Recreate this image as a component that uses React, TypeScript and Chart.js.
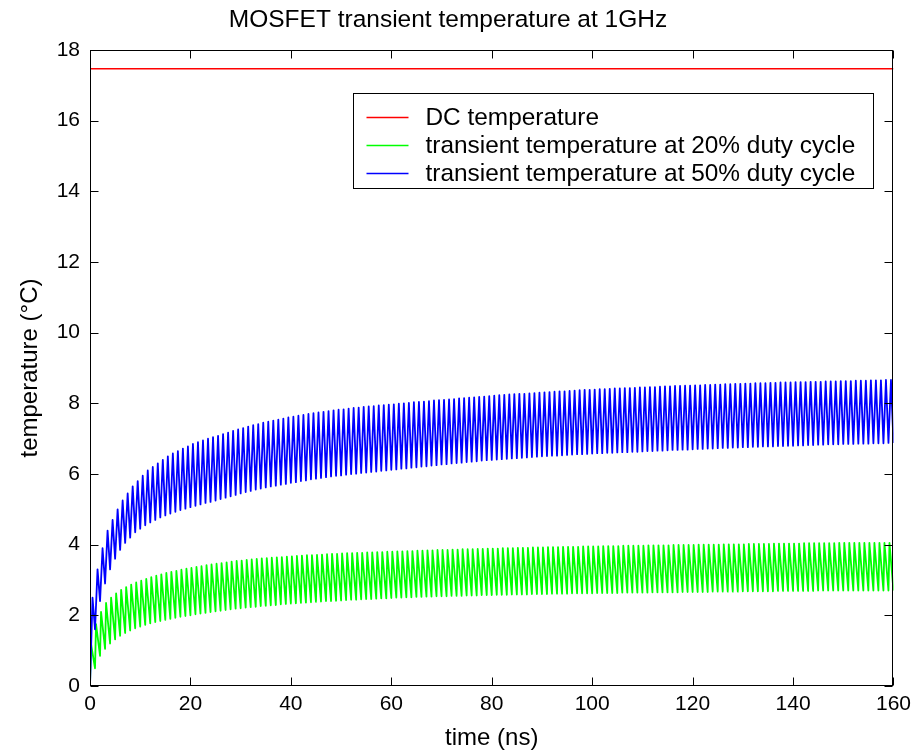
import { useEffect, useRef } from "react";
import { Chart, registerables } from "chart.js";

Chart.register(...registerables);

// ---- text ----
const TITLE = "MOSFET transient temperature at 1GHz";
const X_LABEL = "time (ns)";
const Y_LABEL = "temperature (°C)";
const SERIES_LABELS = [
  "DC temperature",
  "transient temperature at 20% duty cycle",
  "transient temperature at 50% duty cycle",
];

// ---- axes ----
const X_TICKS = [0, 20, 40, 60, 80, 100, 120, 140, 160];
const Y_TICKS = [0, 2, 4, 6, 8, 10, 12, 14, 16, 18];

// ---- data (°C) ----
const DC_TEMPERATURE = 17.47;
const DUTY_20 = 0.2; // fraction of each 1 ns period that the device is on
const DUTY_50 = 0.5;

// 20% duty cycle: temperature at the end of each on-pulse (one per ns period)
const PEAK_20 = [
  1.2, 1.75, 2.1, 2.35, 2.5, 2.62, 2.72, 2.8, 2.87, 2.93,
  2.98, 3.03, 3.08, 3.12, 3.16, 3.2, 3.23, 3.26, 3.29, 3.32,
  3.34, 3.37, 3.39, 3.42, 3.44, 3.46, 3.48, 3.5, 3.52, 3.54,
  3.55, 3.57, 3.58, 3.6, 3.61, 3.62, 3.63, 3.64, 3.65, 3.66,
  3.67, 3.68, 3.69, 3.7, 3.7, 3.71, 3.72, 3.73, 3.74, 3.74,
  3.75, 3.76, 3.76, 3.77, 3.77, 3.78, 3.78, 3.79, 3.79, 3.8,
  3.8, 3.81, 3.81, 3.82, 3.82, 3.83, 3.83, 3.84, 3.84, 3.85,
  3.85, 3.85, 3.86, 3.86, 3.87, 3.87, 3.87, 3.88, 3.88, 3.89,
  3.89, 3.89, 3.9, 3.9, 3.9, 3.91, 3.91, 3.91, 3.92, 3.92,
  3.92, 3.93, 3.93, 3.93, 3.94, 3.94, 3.94, 3.94, 3.95, 3.95,
  3.95, 3.95, 3.96, 3.96, 3.96, 3.96, 3.97, 3.97, 3.97, 3.97,
  3.97, 3.98, 3.98, 3.98, 3.98, 3.98, 3.99, 3.99, 3.99, 3.99,
  3.99, 4.0, 4.0, 4.0, 4.0, 4.0, 4.01, 4.01, 4.01, 4.01,
  4.01, 4.02, 4.02, 4.02, 4.02, 4.02, 4.03, 4.03, 4.03, 4.03,
  4.03, 4.03, 4.04, 4.04, 4.04, 4.04, 4.04, 4.04, 4.04, 4.05,
  4.05, 4.05, 4.05, 4.05, 4.05, 4.05, 4.05, 4.05, 4.05, 4.05,
];
// 20% duty cycle: temperature at the start of each period (t = 0 ... 160 ns)
const VALLEY_20 = [
  0, 0.5, 0.85, 1.05, 1.2, 1.32, 1.42, 1.5, 1.57, 1.63,
  1.68, 1.73, 1.77, 1.81, 1.84, 1.87, 1.9, 1.93, 1.96, 1.98,
  2.0, 2.03, 2.05, 2.07, 2.09, 2.11, 2.13, 2.15, 2.17, 2.19,
  2.2, 2.22, 2.23, 2.24, 2.26, 2.27, 2.28, 2.29, 2.31, 2.32,
  2.33, 2.34, 2.35, 2.36, 2.37, 2.38, 2.39, 2.4, 2.4, 2.41,
  2.42, 2.43, 2.44, 2.44, 2.45, 2.46, 2.46, 2.47, 2.48, 2.48,
  2.49, 2.5, 2.5, 2.51, 2.51, 2.52, 2.52, 2.53, 2.53, 2.54,
  2.54, 2.54, 2.55, 2.55, 2.55, 2.56, 2.56, 2.56, 2.57, 2.57,
  2.57, 2.58, 2.58, 2.58, 2.59, 2.59, 2.59, 2.59, 2.6, 2.6,
  2.6, 2.6, 2.61, 2.61, 2.61, 2.61, 2.62, 2.62, 2.62, 2.62,
  2.62, 2.63, 2.63, 2.63, 2.63, 2.63, 2.64, 2.64, 2.64, 2.64,
  2.64, 2.64, 2.65, 2.65, 2.65, 2.65, 2.65, 2.65, 2.66, 2.66,
  2.66, 2.66, 2.66, 2.66, 2.67, 2.67, 2.67, 2.67, 2.67, 2.67,
  2.68, 2.68, 2.68, 2.68, 2.68, 2.68, 2.68, 2.69, 2.69, 2.69,
  2.69, 2.69, 2.69, 2.69, 2.69, 2.7, 2.7, 2.7, 2.7, 2.7,
  2.7, 2.7, 2.7, 2.7, 2.7, 2.7, 2.7, 2.7, 2.7, 2.7, 2.7,
];
// 50% duty cycle: temperature at the end of each on-pulse
const PEAK_50 = [
  2.5, 3.3, 3.9, 4.4, 4.7, 5.0, 5.25, 5.45, 5.65, 5.8,
  5.95, 6.1, 6.2, 6.3, 6.4, 6.5, 6.58, 6.65, 6.72, 6.78,
  6.85, 6.9, 6.95, 7.0, 7.04, 7.08, 7.13, 7.17, 7.22, 7.26,
  7.3, 7.34, 7.38, 7.41, 7.45, 7.48, 7.51, 7.54, 7.57, 7.6,
  7.62, 7.65, 7.67, 7.7, 7.72, 7.74, 7.76, 7.78, 7.8, 7.82,
  7.83, 7.85, 7.87, 7.88, 7.9, 7.91, 7.92, 7.94, 7.95, 7.96,
  7.97, 7.99, 8.0, 8.01, 8.03, 8.04, 8.05, 8.06, 8.08, 8.09,
  8.1, 8.11, 8.12, 8.14, 8.15, 8.16, 8.17, 8.18, 8.19, 8.2,
  8.22, 8.23, 8.24, 8.25, 8.26, 8.27, 8.27, 8.28, 8.29, 8.3,
  8.31, 8.32, 8.33, 8.34, 8.34, 8.35, 8.36, 8.37, 8.38, 8.38,
  8.39, 8.4, 8.4, 8.41, 8.42, 8.42, 8.43, 8.43, 8.44, 8.45,
  8.45, 8.46, 8.46, 8.47, 8.48, 8.48, 8.49, 8.49, 8.5, 8.5,
  8.51, 8.51, 8.52, 8.52, 8.53, 8.53, 8.54, 8.54, 8.55, 8.55,
  8.56, 8.56, 8.57, 8.57, 8.57, 8.58, 8.58, 8.59, 8.59, 8.59,
  8.6, 8.6, 8.6, 8.61, 8.61, 8.61, 8.62, 8.62, 8.62, 8.63,
  8.63, 8.63, 8.64, 8.64, 8.64, 8.65, 8.65, 8.65, 8.66, 8.66,
];
// 50% duty cycle: temperature at the start of each period (t = 0 ... 160 ns)
const VALLEY_50 = [
  0, 1.6, 2.4, 2.9, 3.3, 3.6, 3.85, 4.05, 4.2, 4.35,
  4.45, 4.55, 4.63, 4.7, 4.77, 4.83, 4.88, 4.93, 4.98, 5.02,
  5.06, 5.1, 5.14, 5.18, 5.21, 5.25, 5.29, 5.33, 5.37, 5.41,
  5.45, 5.49, 5.52, 5.56, 5.59, 5.62, 5.65, 5.67, 5.7, 5.72,
  5.75, 5.77, 5.8, 5.82, 5.85, 5.87, 5.89, 5.91, 5.93, 5.95,
  5.96, 5.98, 6.0, 6.01, 6.03, 6.04, 6.06, 6.07, 6.09, 6.1,
  6.12, 6.13, 6.15, 6.16, 6.18, 6.19, 6.21, 6.22, 6.24, 6.25,
  6.27, 6.28, 6.3, 6.31, 6.32, 6.34, 6.35, 6.36, 6.38, 6.39,
  6.4, 6.41, 6.42, 6.43, 6.44, 6.45, 6.46, 6.47, 6.48, 6.49,
  6.5, 6.51, 6.52, 6.52, 6.53, 6.54, 6.55, 6.56, 6.56, 6.57,
  6.58, 6.59, 6.59, 6.6, 6.6, 6.61, 6.62, 6.62, 6.63, 6.63,
  6.64, 6.65, 6.65, 6.66, 6.66, 6.67, 6.68, 6.68, 6.69, 6.69,
  6.7, 6.71, 6.71, 6.72, 6.72, 6.73, 6.74, 6.74, 6.75, 6.75,
  6.76, 6.76, 6.77, 6.77, 6.78, 6.78, 6.78, 6.79, 6.79, 6.8,
  6.8, 6.81, 6.81, 6.82, 6.82, 6.83, 6.83, 6.84, 6.84, 6.84,
  6.85, 6.85, 6.85, 6.86, 6.86, 6.86, 6.87, 6.87, 6.87, 6.88, 6.88,
];

const COLORS = ["#ff0000", "#00ff00", "#0000ff"];
const FONT = "'Liberation Sans', Arial, Helvetica, sans-serif";

type Pt = { x: number; y: number };

// One heating ramp (valley -> peak) and one cooling ramp (peak -> next valley) per period.
function pulseTrain(valleys: number[], peaks: number[], duty: number): Pt[] {
  const pts: Pt[] = [];
  for (let k = 0; k < peaks.length; k++) {
    pts.push({ x: k, y: valleys[k] });
    pts.push({ x: k + duty, y: peaks[k] });
  }
  pts.push({ x: peaks.length, y: valleys[peaks.length] });
  return pts;
}

const TICK_LEN = 8;

// Axes box with inward tick marks on all four sides, plus the boxed legend.
const framePlugin = {
  id: "frame",
  afterDraw(chart: any) {
    const { ctx, chartArea: a, scales } = chart;
    const L = Math.round(a.left) + 0.5;
    const R = Math.round(a.right) - 0.5;
    const T = Math.round(a.top) + 0.5;
    const B = Math.round(a.bottom) - 0.5;
    ctx.save();
    ctx.strokeStyle = "#000";
    ctx.lineWidth = 1;
    ctx.beginPath();
    for (const t of scales.x.ticks) {
      const px = Math.round(scales.x.getPixelForValue(t.value)) + 0.5;
      ctx.moveTo(px, B);
      ctx.lineTo(px, B - TICK_LEN);
      ctx.moveTo(px, T);
      ctx.lineTo(px, T + TICK_LEN);
    }
    for (const t of scales.y.ticks) {
      const py = Math.round(scales.y.getPixelForValue(t.value)) + 0.5;
      ctx.moveTo(L, py);
      ctx.lineTo(L + TICK_LEN, py);
      ctx.moveTo(R, py);
      ctx.lineTo(R - TICK_LEN, py);
    }
    ctx.stroke();
    ctx.strokeRect(L, T, R - L, B - T);

    // legend
    const datasets = chart.data.datasets;
    ctx.font = `24.4px ${FONT}`;
    let maxW = 0;
    for (const d of datasets) maxW = Math.max(maxW, ctx.measureText(d.label).width);
    const rowH = 28;
    const lineX0 = 13;
    const lineX1 = 55;
    const textX = 72;
    const boxW = Math.round(textX + maxW + 18);
    const boxH = 95;
    const bx = Math.round(a.right) - 20 - boxW + 0.5;
    const by = Math.round(a.top) + 43 + 0.5;
    ctx.fillStyle = "#fff";
    ctx.fillRect(bx, by, boxW, boxH);
    ctx.strokeStyle = "#000";
    ctx.strokeRect(bx, by, boxW, boxH);
    ctx.textBaseline = "middle";
    ctx.textAlign = "left";
    datasets.forEach((d: any, i: number) => {
      const cy = by + 23.5 + i * rowH;
      ctx.strokeStyle = d.borderColor;
      ctx.lineWidth = 1.5;
      ctx.beginPath();
      ctx.moveTo(bx + lineX0, Math.round(cy) + 0.5);
      ctx.lineTo(bx + lineX1, Math.round(cy) + 0.5);
      ctx.stroke();
      ctx.fillStyle = "#000";
      ctx.fillText(d.label, bx + textX, cy + 1);
    });
    ctx.restore();
  },
};

export default function App() {
  const canvasRef = useRef<HTMLCanvasElement | null>(null);

  useEffect(() => {
    const canvas = canvasRef.current;
    if (!canvas) return;

    const dcLine: Pt[] = [
      { x: X_TICKS[0], y: DC_TEMPERATURE },
      { x: X_TICKS[X_TICKS.length - 1], y: DC_TEMPERATURE },
    ];

    const chart = new Chart(canvas, {
      type: "line",
      data: {
        datasets: [
          {
            label: SERIES_LABELS[0],
            data: dcLine,
            borderColor: COLORS[0],
            borderWidth: 1.6,
            pointRadius: 0,
            order: 3,
          },
          {
            label: SERIES_LABELS[1],
            data: pulseTrain(VALLEY_20, PEAK_20, DUTY_20),
            borderColor: COLORS[1],
            borderWidth: 1.8,
            borderJoinStyle: "round",
            pointRadius: 0,
            order: 2,
          },
          {
            label: SERIES_LABELS[2],
            data: pulseTrain(VALLEY_50, PEAK_50, DUTY_50),
            borderColor: COLORS[2],
            borderWidth: 1.8,
            borderJoinStyle: "round",
            pointRadius: 0,
            order: 1,
          },
        ] as any,
      },
      options: {
        responsive: false,
        animation: false,
        devicePixelRatio: 1,
        events: [],
        layout: { padding: { left: 0, right: 21, top: 0, bottom: 0 } },
        plugins: {
          legend: { display: false },
          tooltip: { enabled: false },
          title: {
            display: true,
            text: TITLE,
            color: "#000",
            font: { family: FONT, size: 24.5, weight: "normal", lineHeight: 1.2 },
            padding: { top: 6, bottom: 14.6 },
          },
        },
        scales: {
          x: {
            type: "linear",
            min: X_TICKS[0],
            max: X_TICKS[X_TICKS.length - 1],
            afterBuildTicks: (s: any) => {
              s.ticks = X_TICKS.map((v) => ({ value: v }));
            },
            afterFit: (s: any) => {
              s.height = 65;
            },
            grid: { display: false, drawTicks: false },
            border: { display: false },
            ticks: {
              color: "#000",
              padding: 6,
              maxRotation: 0,
              font: { family: FONT, size: 21 },
            },
            title: {
              display: true,
              text: X_LABEL,
              color: "#000",
              font: { family: FONT, size: 24, lineHeight: 1 },
              padding: { top: 0, bottom: 1 },
            },
          },
          y: {
            type: "linear",
            min: Y_TICKS[0],
            max: Y_TICKS[Y_TICKS.length - 1],
            afterBuildTicks: (s: any) => {
              s.ticks = Y_TICKS.map((v) => ({ value: v }));
            },
            afterFit: (s: any) => {
              s.width = 90;
            },
            grid: { display: false, drawTicks: false },
            border: { display: false },
            ticks: {
              color: "#000",
              padding: 10,
              font: { family: FONT, size: 21 },
            },
            title: {
              display: true,
              text: Y_LABEL,
              color: "#000",
              font: { family: FONT, size: 24, lineHeight: 1 },
              padding: { top: 18, bottom: 0 },
            },
          },
        },
      },
      plugins: [framePlugin],
    });

    return () => chart.destroy();
  }, []);

  return (
    <div style={{ position: "fixed", left: 0, top: 0, width: 917, height: 751, background: "#fff" }}>
      <canvas ref={canvasRef} width={917} height={751} style={{ display: "block" }} />
    </div>
  );
}
